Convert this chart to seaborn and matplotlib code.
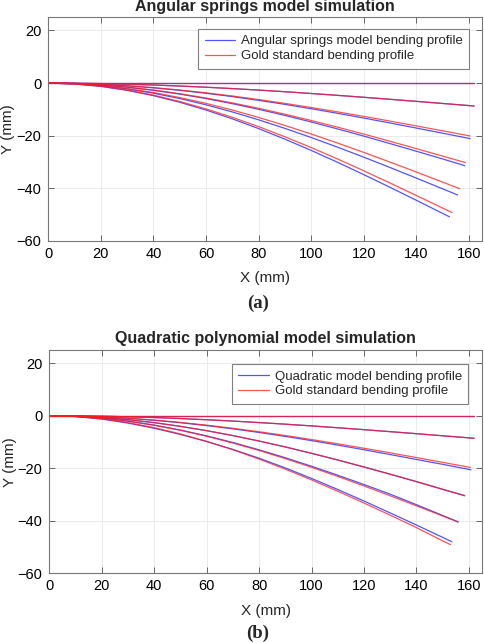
import matplotlib
matplotlib.use("Agg")
import matplotlib.pyplot as plt
from matplotlib.lines import Line2D
import pandas as pd
import seaborn as sns

# === Data (mm) ===
# y values sampled at x = 0, 10, ..., 150; each curve then ends at its own tip point
x_steps = [0, 10, 20, 30, 40, 50, 60, 70, 80, 90, 100, 110, 120, 130, 140, 150]

# (a) angular springs model vs gold standard
a_gold_y = [
    [0] * 16,
    [0, -0.05, -0.19, -0.42, -0.73, -1.12, -1.57, -2.09, -2.66, -3.28, -3.95, -4.66, -5.39, -6.16, -6.94, -7.74],
    [0, -0.11, -0.45, -0.99, -1.72, -2.62, -3.69, -4.90, -6.25, -7.71, -9.27, -10.93, -12.65, -14.44, -16.27, -18.13],
    [0, -0.18, -0.69, -1.52, -2.64, -4.03, -5.66, -7.52, -9.58, -11.81, -14.21, -16.73, -19.37, -22.10, -24.89, -27.72],
    [0, -0.24, -0.94, -2.07, -3.59, -5.49, -7.71, -10.24, -13.04, -16.08, -19.33, -22.76, -26.33, -30.01, -33.78, -37.61],
    [0, -0.31, -1.20, -2.63, -4.57, -6.98, -9.80, -13.00, -16.54, -20.39, -24.49, -28.81, -33.31, -37.95, -42.69, -47.47],
]
a_gold_tip_x = [162.0, 162.0, 160.5, 158.7, 156.5, 153.6]
a_gold_tip_y = [0.0, -8.7, -20.1, -30.2, -40.1, -49.2]

a_model_y = [
    [0] * 16,
    [0, -0.05, -0.19, -0.42, -0.73, -1.12, -1.57, -2.09, -2.66, -3.28, -3.95, -4.66, -5.39, -6.16, -6.94, -7.74],
    [0, -0.12, -0.47, -1.04, -1.80, -2.75, -3.87, -5.14, -6.56, -8.09, -9.74, -11.47, -13.28, -15.16, -17.08, -19.03],
    [0, -0.18, -0.72, -1.58, -2.74, -4.19, -5.88, -7.82, -9.96, -12.28, -14.77, -17.40, -20.14, -22.98, -25.88, -28.82],
    [0, -0.26, -1.01, -2.21, -3.85, -5.87, -8.25, -10.96, -13.95, -17.20, -20.67, -24.33, -28.14, -32.07, -36.09, -40.17],
    [0, -0.32, -1.25, -2.75, -4.78, -7.29, -10.24, -13.58, -17.28, -21.30, -25.57, -30.08, -34.77, -39.60, -44.52, -49.50],
]
a_model_tip_x = [162.0, 162.0, 160.5, 158.5, 155.7, 152.6]
a_model_tip_y = [0.0, -8.7, -21.1, -31.4, -42.5, -50.8]

# (b) quadratic polynomial model vs gold standard
b_gold_y = [
    [0] * 16,
    [0, -0.05, -0.19, -0.42, -0.72, -1.10, -1.55, -2.06, -2.63, -3.24, -3.90, -4.60, -5.33, -6.09, -6.86, -7.65],
    [0, -0.11, -0.44, -0.97, -1.68, -2.57, -3.61, -4.80, -6.12, -7.55, -9.09, -10.71, -12.40, -14.15, -15.95, -17.77],
    [0, -0.18, -0.69, -1.53, -2.65, -4.05, -5.70, -7.57, -9.64, -11.89, -14.30, -16.84, -19.50, -22.25, -25.05, -27.98],
    [0, -0.24, -0.96, -2.10, -3.66, -5.58, -7.85, -10.42, -13.26, -16.35, -19.65, -23.12, -26.75, -30.49, -34.31, -38.18],
    [0, -0.30, -1.19, -2.63, -4.56, -6.96, -9.78, -12.97, -16.51, -20.35, -24.44, -28.75, -33.25, -37.88, -42.60, -47.66],
]
b_gold_tip_x = [162.0, 162.0, 160.5, 158.4, 155.8, 153.0]
b_gold_tip_y = [0.0, -8.6, -19.7, -30.4, -40.4, -49.1]

b_model_y = [
    [0] * 16,
    [0, -0.05, -0.19, -0.42, -0.72, -1.10, -1.55, -2.06, -2.63, -3.24, -3.90, -4.60, -5.33, -6.09, -6.86, -7.65],
    [0, -0.12, -0.46, -1.01, -1.76, -2.69, -3.78, -5.02, -6.40, -7.90, -9.50, -11.20, -12.97, -14.80, -16.67, -18.53],
    [0, -0.18, -0.70, -1.53, -2.66, -4.07, -5.72, -7.59, -9.67, -11.93, -14.35, -16.90, -19.56, -22.32, -25.14, -28.07],
    [0, -0.24, -0.94, -2.06, -3.58, -5.47, -7.69, -10.21, -13.00, -16.02, -19.26, -22.67, -26.22, -29.89, -33.89, -37.99],
    [0, -0.34, -1.30, -2.82, -4.80, -7.15, -9.85, -12.85, -16.20, -19.90, -23.89, -28.11, -32.50, -37.03, -41.64, -46.32],
]
b_model_tip_x = [162.0, 162.0, 160.8, 158.4, 156.0, 153.5]
b_model_tip_y = [0.0, -8.6, -20.6, -30.5, -40.5, -48.0]

x_ticks = [0, 20, 40, 60, 80, 100, 120, 140, 160]
y_ticks = [-60, -40, -20, 0, 20]

BLUE = "#1a1aff"
RED = "#ff1a1a"


def build_frame(series):
    """Long table: one row per point, one unit per curve."""
    rows = []
    for source, ys, tip_x, tip_y in series:
        for k, y in enumerate(ys):
            for x, v in zip(x_steps, y):
                rows.append({"x": x, "y": v, "curve": k, "source": source})
            rows.append({"x": tip_x[k], "y": tip_y[k], "curve": k, "source": source})
    return pd.DataFrame(rows)


sns.set_style("whitegrid", {
    "grid.color": "#ebebeb",
    "axes.edgecolor": "#777777",
    "axes.linewidth": 0.8,
    "xtick.direction": "in",
    "ytick.direction": "in",
})
plt.rcParams["font.family"] = ["Liberation Sans", "DejaVu Sans"]

fig = plt.figure(figsize=(4.84, 6.43), dpi=100)

panels = [
    {
        "rect": [0.0998, 0.6252, 0.8961, 0.3479],
        "title": "Angular springs model simulation",
        "model_label": "Angular springs model bending profile",
        "data": build_frame([
            ("model", a_model_y, a_model_tip_x, a_model_tip_y),
            ("gold", a_gold_y, a_gold_tip_x, a_gold_tip_y),
        ]),
        "legend_anchor": (0.970, 0.948),
        "tag": "(a)",
        "tag_y": 1 - 303.3 / 643,
        "title_pad": 4.5,
    },
    {
        "rect": [0.1019, 0.1084, 0.8940, 0.3473],
        "title": "Quadratic polynomial model simulation",
        "model_label": "Quadratic model bending profile",
        "data": build_frame([
            ("model", b_model_y, b_model_tip_x, b_model_tip_y),
            ("gold", b_gold_y, b_gold_tip_x, b_gold_tip_y),
        ]),
        "legend_anchor": (0.968, 0.937),
        "tag": "(b)",
        "tag_y": 1 - 633 / 643,
        "title_pad": 5,
    },
]

for p in panels:
    ax = fig.add_axes(p["rect"])
    sns.lineplot(
        data=p["data"], x="x", y="y", hue="source", units="curve",
        estimator=None, sort=False, hue_order=["model", "gold"],
        palette={"model": BLUE, "gold": RED},
        linewidth=0.9, alpha=0.75, legend=False, ax=ax,
    )
    ax.set_xlim(0, 165)
    ax.set_ylim(-60, 25)
    ax.set_xticks(x_ticks)
    ax.set_yticks(y_ticks)
    ax.tick_params(axis="both", which="both", direction="in", length=4, width=0.7,
                   color="#666666", labelsize=10.5, labelcolor="black",
                   top=True, right=True, bottom=True, left=True)
    ax.tick_params(axis="x", pad=4)
    ax.tick_params(axis="y", pad=5)
    ax.grid(True, color="#ebebeb", linewidth=0.7)
    for s in ax.spines.values():
        s.set_visible(True)
        s.set_color("#777777")
        s.set_linewidth(0.8)

    ax.set_title(p["title"], fontsize=11.5, fontweight="bold", pad=p["title_pad"])
    ax.set_xlabel("X (mm)", fontsize=11, va="center")
    ax.xaxis.set_label_coords(0.5, -0.167)
    ax.set_ylabel("Y (mm)", fontsize=11, va="center")
    ax.yaxis.set_label_coords(-0.092, 0.5)

    handles = [
        Line2D([], [], color=BLUE, linewidth=0.9, alpha=0.75),
        Line2D([], [], color=RED, linewidth=0.9, alpha=0.75),
    ]
    leg = ax.legend(handles, [p["model_label"], "Gold standard bending profile"],
                    loc="upper right", bbox_to_anchor=p["legend_anchor"],
                    borderaxespad=0, fontsize=9.5, frameon=True, fancybox=False,
                    framealpha=1, edgecolor="#808080", handlelength=2.3,
                    handletextpad=0.45, labelspacing=0.2, borderpad=0.48)
    leg.get_frame().set_linewidth(0.8)

    fig.text(258 / 484, p["tag_y"], p["tag"], ha="center", va="center",
             fontsize=13.5, fontweight="bold", family=["Liberation Serif", "DejaVu Serif"])

fig.savefig("out.png", dpi=100)
